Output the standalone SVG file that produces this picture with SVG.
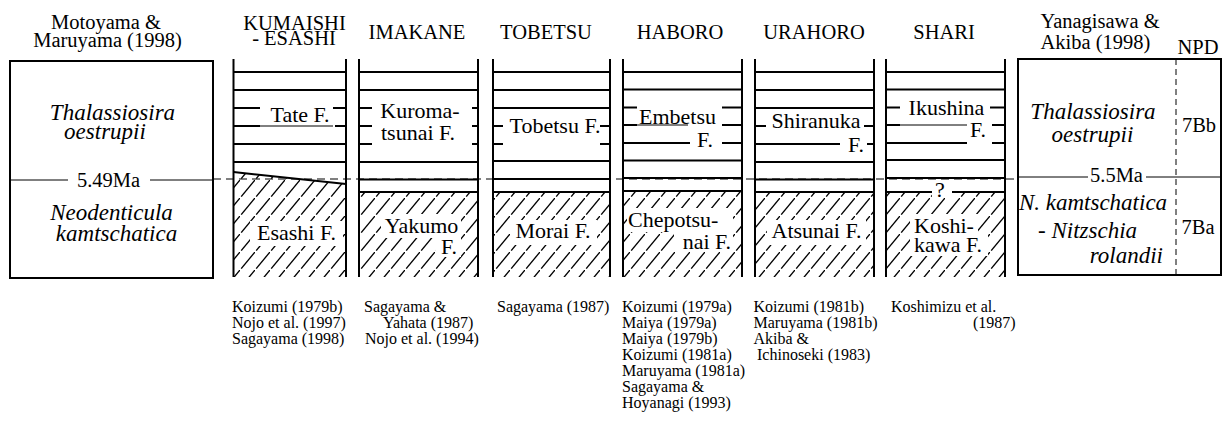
<svg xmlns="http://www.w3.org/2000/svg" width="1224" height="427" viewBox="0 0 1224 427">
<style>
text{font-family:"Liberation Serif","Times New Roman",serif;fill:#000}
.h{font-size:20.5px;text-anchor:middle}
.f{font-size:22px}
.m{text-anchor:middle}
.e{text-anchor:end}
.sp{font-size:23px;font-style:italic}
.r{font-size:16px}
.k{stroke:#000;stroke-width:2;fill:none}
.th{stroke:#000;stroke-width:1;fill:none}
.wb{fill:#fff}
</style>
<defs>
<pattern id="hatch" patternUnits="userSpaceOnUse" width="15" height="18">
<path d="M1.2,16.6 L15,0" stroke="#000" stroke-width="1.4"/>
</pattern>
</defs>
<rect width="1224" height="427" fill="#fff"/>

<g id="connectors">
<line x1="213" y1="179" x2="1018" y2="179" stroke="#000" stroke-width="1" stroke-dasharray="8 5"/>
</g>

<g id="left-zone">
<text class="h" x="106" y="29">Motoyama &amp;</text>
<text class="h" x="107.5" y="47">Maruyama  (1998)</text>
<rect class="k" x="10" y="61" width="203" height="217"/>
<line class="th" x1="10" y1="180" x2="68" y2="180"/>
<line class="th" x1="150" y1="180" x2="213" y2="180"/>
<text class="sp m" x="112.5" y="120">Thalassiosira</text>
<text class="sp m" x="105" y="138.5">oestrupii</text>
<text class="h" x="108.5" y="186.5">5.49Ma</text>
<text class="sp m" x="111.5" y="220">Neodenticula</text>
<text class="sp m" x="116.5" y="241">kamtschatica</text>
</g>

<g id="kumaishi">
<text class="h" x="294.5" y="29.5">KUMAISHI</text>
<text class="h" x="294" y="45">- ESASHI</text>
<polygon points="233.5,172 346,184 346,277 233.5,277" fill="url(#hatch)"/>
<line class="k" x1="233.5" y1="172" x2="346" y2="184"/>
<line class="k" x1="233.5" y1="72" x2="346" y2="72"/>
<line class="k" x1="233.5" y1="90" x2="346" y2="90"/>
<line class="k" x1="233.5" y1="108" x2="260" y2="108"/>
<line class="k" x1="333" y1="108" x2="346" y2="108"/>
<line class="k" x1="233.5" y1="126" x2="260" y2="126"/>
<line class="th" x1="260" y1="126" x2="333" y2="126"/>
<line class="k" x1="335" y1="126" x2="346" y2="126"/>
<line class="k" x1="233.5" y1="144" x2="346" y2="144"/>
<line class="k" x1="233.5" y1="162" x2="346" y2="162"/>
<text class="f m" x="300" y="122">Tate F.</text>
<rect class="wb" x="250" y="221" width="93" height="25"/>
<text class="f m" x="296.5" y="240">Esashi F.</text>
<line class="k" x1="233.5" y1="59" x2="233.5" y2="277"/>
<line class="k" x1="346" y1="59" x2="346" y2="277"/>
<text class="r" x="232" y="311.5">Koizumi (1979b)</text>
<text class="r" x="232" y="327.5">Nojo et al. (1997)</text>
<text class="r" x="232" y="343.5">Sagayama (1998)</text>
</g>

<g id="imakane">
<text class="h" x="417" y="38.5">IMAKANE</text>
<rect x="359" y="192" width="119" height="85" fill="url(#hatch)"/>
<line class="k" x1="359" y1="72" x2="478" y2="72"/>
<line class="k" x1="359" y1="90" x2="478" y2="90"/>
<line class="k" x1="359" y1="108" x2="372" y2="108"/>
<line class="k" x1="472" y1="108" x2="478" y2="108"/>
<line class="k" x1="359" y1="126" x2="372" y2="126"/>
<line class="k" x1="472" y1="126" x2="478" y2="126"/>
<line class="k" x1="359" y1="144" x2="372" y2="144"/>
<line class="k" x1="472" y1="144" x2="478" y2="144"/>
<line class="k" x1="359" y1="162" x2="478" y2="162"/>
<line class="k" x1="359" y1="179.5" x2="478" y2="179.5"/>
<line class="k" x1="359" y1="192" x2="478" y2="192"/>
<text class="f m" x="420" y="118">Kuroma-</text>
<text class="f m" x="418" y="140">tsunai F.</text>
<rect class="wb" x="381" y="214" width="80" height="24"/>
<rect class="wb" x="436" y="236" width="25" height="21"/>
<text class="f m" x="421.5" y="233">Yakumo</text>
<text class="f e" x="457" y="253.5">F.</text>
<line class="k" x1="359" y1="59" x2="359" y2="277"/>
<line class="k" x1="478" y1="59" x2="478" y2="277"/>
<text class="r" x="364" y="311.5">Sagayama &amp;</text>
<text class="r" x="383" y="327.5">Yahata (1987)</text>
<text class="r" x="365" y="343.5">Nojo et al. (1994)</text>
</g>

<g id="tobetsu">
<text class="h" x="546" y="38.5">TOBETSU</text>
<rect x="493" y="192" width="117" height="85" fill="url(#hatch)"/>
<line class="k" x1="493" y1="72" x2="610" y2="72"/>
<line class="k" x1="493" y1="90" x2="610" y2="90"/>
<line class="k" x1="493" y1="108" x2="610" y2="108"/>
<line class="k" x1="493" y1="126" x2="503" y2="126"/>
<line class="k" x1="600" y1="126" x2="610" y2="126"/>
<line class="k" x1="493" y1="144" x2="503" y2="144"/>
<line class="k" x1="600" y1="144" x2="610" y2="144"/>
<line class="k" x1="493" y1="161" x2="610" y2="161"/>
<line class="k" x1="493" y1="179" x2="610" y2="179"/>
<line class="k" x1="493" y1="192" x2="610" y2="192"/>
<text class="f m" x="555" y="133">Tobetsu F.</text>
<rect class="wb" x="510" y="220" width="87" height="25"/>
<text class="f m" x="553" y="238">Morai F.</text>
<line class="k" x1="493" y1="59" x2="493" y2="277"/>
<line class="k" x1="610" y1="59" x2="610" y2="277"/>
<text class="r" x="497" y="311.5">Sagayama (1987)</text>
</g>

<g id="haboro">
<text class="h" x="680" y="38.5">HABORO</text>
<rect x="623" y="191" width="119" height="86" fill="url(#hatch)"/>
<line class="k" x1="623" y1="72" x2="742" y2="72"/>
<line class="k" x1="623" y1="89.5" x2="742" y2="89.5"/>
<line class="k" x1="623" y1="107.5" x2="637" y2="107.5"/>
<line class="k" x1="722" y1="107.5" x2="742" y2="107.5"/>
<line class="k" x1="623" y1="125" x2="637" y2="125"/>
<line class="th" x1="637" y1="125" x2="688" y2="125"/>
<line class="k" x1="722" y1="125" x2="742" y2="125"/>
<line class="k" x1="623" y1="143" x2="690" y2="143"/>
<line class="k" x1="722" y1="143" x2="742" y2="143"/>
<line class="k" x1="623" y1="160.5" x2="742" y2="160.5"/>
<line class="k" x1="623" y1="178" x2="742" y2="178"/>
<line class="k" x1="623" y1="191" x2="742" y2="191"/>
<text class="f m" x="677.5" y="124">Embetsu</text>
<text class="f" x="697" y="146.5">F.</text>
<rect class="wb" x="627" y="208" width="106" height="24"/>
<rect class="wb" x="674" y="230" width="59" height="22"/>
<text class="f" x="628" y="227">Chepotsu-</text>
<text class="f e" x="731" y="248.5">nai F.</text>
<line class="k" x1="623" y1="59" x2="623" y2="277"/>
<line class="k" x1="742" y1="59" x2="742" y2="277"/>
<text class="r" x="622" y="311.5">Koizumi (1979a)</text>
<text class="r" x="622" y="327.5">Maiya (1979a)</text>
<text class="r" x="622" y="343.5">Maiya (1979b)</text>
<text class="r" x="622" y="359.5">Koizumi (1981a)</text>
<text class="r" x="622" y="375.5">Maruyama (1981a)</text>
<text class="r" x="622" y="391.5">Sagayama &amp;</text>
<text class="r" x="622" y="407.5">Hoyanagi (1993)</text>
</g>

<g id="urahoro">
<text class="h" x="814" y="38.5">URAHORO</text>
<rect x="755" y="192" width="119" height="85" fill="url(#hatch)"/>
<line class="k" x1="755" y1="72" x2="874" y2="72"/>
<line class="k" x1="755" y1="90" x2="874" y2="90"/>
<line class="k" x1="755" y1="108" x2="874" y2="108"/>
<line class="k" x1="755" y1="126" x2="766" y2="126"/>
<line class="k" x1="864" y1="126" x2="874" y2="126"/>
<line class="k" x1="755" y1="144" x2="840" y2="144"/>
<line class="k" x1="867" y1="144" x2="874" y2="144"/>
<line class="k" x1="755" y1="162" x2="874" y2="162"/>
<line class="k" x1="755" y1="179.5" x2="874" y2="179.5"/>
<line class="k" x1="755" y1="192" x2="874" y2="192"/>
<text class="f m" x="816" y="128">Shiranuka</text>
<text class="f" x="848" y="151.5">F.</text>
<rect class="wb" x="767" y="220" width="99" height="25"/>
<text class="f m" x="816.5" y="238">Atsunai F.</text>
<line class="k" x1="755" y1="59" x2="755" y2="277"/>
<line class="k" x1="874" y1="59" x2="874" y2="277"/>
<text class="r" x="753.5" y="311.5">Koizumi (1981b)</text>
<text class="r" x="753.5" y="327.5">Maruyama (1981b)</text>
<text class="r" x="753.5" y="343.5">Akiba &amp;</text>
<text class="r" x="757" y="359.5">Ichinoseki (1983)</text>
</g>

<g id="shari">
<text class="h" x="944" y="38.5">SHARI</text>
<rect x="886" y="192" width="119" height="85" fill="url(#hatch)"/>
<line class="k" x1="886" y1="72" x2="1005" y2="72"/>
<line class="k" x1="886" y1="89.5" x2="1005" y2="89.5"/>
<line class="k" x1="886" y1="107.5" x2="900" y2="107.5"/>
<line class="k" x1="990" y1="107.5" x2="1005" y2="107.5"/>
<line class="k" x1="886" y1="125" x2="900" y2="125"/>
<line class="th" x1="900" y1="125" x2="967" y2="125"/>
<line class="k" x1="992" y1="125" x2="1005" y2="125"/>
<line class="k" x1="886" y1="143" x2="967" y2="143"/>
<line class="k" x1="992" y1="143" x2="1005" y2="143"/>
<line class="k" x1="886" y1="160" x2="1005" y2="160"/>
<line class="k" x1="886" y1="178" x2="1005" y2="178"/>
<line class="k" x1="886" y1="192" x2="932" y2="192"/>
<line class="k" x1="952" y1="192" x2="1005" y2="192"/>
<text class="f m" x="946.5" y="115">Ikushina</text>
<text class="f" x="970" y="136.5">F.</text>
<rect class="wb" x="932" y="184" width="20" height="13"/>
<text class="f m" x="940" y="197">?</text>
<rect class="wb" x="910" y="214" width="68" height="22"/>
<rect class="wb" x="910" y="234" width="78" height="22"/>
<text class="f" x="914" y="233">Koshi-</text>
<text class="f" x="914" y="251.5">kawa F.</text>
<line class="k" x1="886" y1="59" x2="886" y2="277"/>
<line class="k" x1="1005" y1="59" x2="1005" y2="277"/>
<text class="r" x="891" y="311.5">Koshimizu et al.</text>
<text class="r" x="973" y="327.5">(1987)</text>
</g>

<g id="right-zone">
<text class="h" x="1100" y="28">Yanagisawa &amp;</text>
<text class="h" x="1095.5" y="48.5">Akiba (1998)</text>
<text class="h" x="1198" y="54">NPD</text>
<rect class="k" x="1018" y="59" width="203" height="216"/>
<line x1="1176" y1="59" x2="1176" y2="275" stroke="#000" stroke-width="1" stroke-dasharray="6 4"/>
<line class="th" x1="1018" y1="177" x2="1088" y2="177"/>
<line class="th" x1="1146" y1="177" x2="1221" y2="177"/>
<text class="sp m" x="1093" y="118.5">Thalassiosira</text>
<text class="sp m" x="1092.5" y="142">oestrupii</text>
<text class="h" x="1116.5" y="182">5.5Ma</text>
<text class="sp m" x="1093" y="209.5">N. kamtschatica</text>
<text class="sp" x="1038" y="237.5">- Nitzschia</text>
<text class="sp e" x="1163" y="262.5">rolandii</text>
<text class="h" x="1199" y="132">7Bb</text>
<text class="h" x="1198" y="234">7Ba</text>
</g>
</svg>
